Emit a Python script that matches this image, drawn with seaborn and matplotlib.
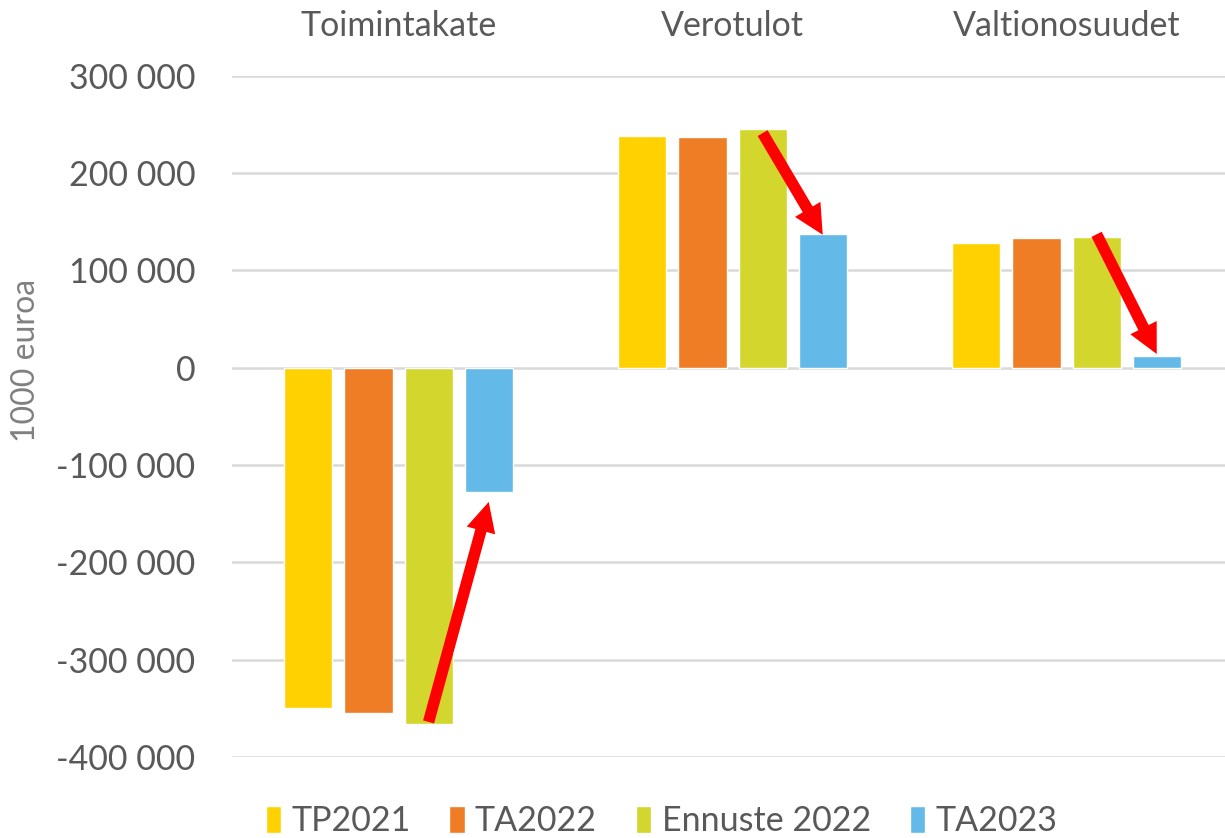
import pandas as pd
import matplotlib.pyplot as plt
import seaborn as sns
from matplotlib.ticker import FuncFormatter, MultipleLocator

# data (1000 euroa)
categories = ["Toimintakate", "Verotulot", "Valtionosuudet"]
series = ["TP2021", "TA2022", "Ennuste 2022", "TA2023"]
tp2021 = [-350000, 238000, 128500]
ta2022 = [-354500, 237000, 133500]
ennuste2022 = [-366000, 245500, 134500]
ta2023 = [-127500, 137500, 11500]

# red arrows: from Ennuste 2022 bar towards TA2023 bar
arrow_from = [-364000, 241000, 137000]
arrow_to = [-138000, 136500, 14000]

colors = ["#FFD100", "#EE7D26", "#D3D72D", "#63BAE8"]
text_color = "#595959"

df = pd.DataFrame({
    "category": categories * 4,
    "series": [s for s in series for _ in categories],
    "value": tp2021 + ta2022 + ennuste2022 + ta2023,
})

sns.set_theme(style="white")
plt.rcParams["font.family"] = ["Lato", "DejaVu Sans"]

fig = plt.figure(figsize=(12.25, 8.38), dpi=100)
ax = fig.add_axes([0.189, 0.0967, 0.818, 0.813])

sns.barplot(data=df, x="category", y="value", hue="series", order=categories,
            hue_order=series, palette=colors, saturation=1, width=0.72,
            gap=0.2, ax=ax, legend=True)

ax.set_ylim(-400000, 300000)
ax.yaxis.set_major_locator(MultipleLocator(100000))
ax.yaxis.set_major_formatter(FuncFormatter(lambda v, p: f"{v:,.0f}".replace(",", " ")))
ax.grid(axis="y", color="#D9D9D9", linewidth=1.8)
ax.set_axisbelow(True)
for s in ax.spines.values():
    s.set_visible(False)

ax.xaxis.tick_top()
ax.tick_params(axis="x", length=0, pad=24, labelsize=24.5, labelcolor=text_color)
ax.tick_params(axis="y", length=0, pad=26, labelsize=24.5, labelcolor=text_color)
ax.set_xlabel("")
ax.set_ylabel("")
fig.text(26 / 1225, 1 - 360 / 838, "1000 euroa", rotation=90, ha="center",
         va="center", fontsize=23, color="#808080")

# arrows between bar centres
ennuste_bars = ax.containers[2]
ta2023_bars = ax.containers[3]
for i in range(len(categories)):
    x0 = ennuste_bars[i].get_x() + ennuste_bars[i].get_width() / 2
    x1 = ta2023_bars[i].get_x() + ta2023_bars[i].get_width() / 2
    ax.annotate("", xy=(x1, arrow_to[i]), xytext=(x0, arrow_from[i]),
                arrowprops=dict(arrowstyle="simple,head_length=0.85,head_width=0.85,tail_width=0.33",
                                fc="red", ec="none", lw=0, mutation_scale=25,
                                shrinkA=0, shrinkB=0))

handles, labels = ax.get_legend_handles_labels()
ax.get_legend().remove()
fig.legend(handles, labels, loc="center", bbox_to_anchor=(0.54, 0.02), ncol=4,
           frameon=False, fontsize=24.5, labelcolor=text_color, handlelength=0.45,
           handleheight=0.85, handletextpad=0.3, columnspacing=1.15)

fig.savefig("out.png", dpi=100)
